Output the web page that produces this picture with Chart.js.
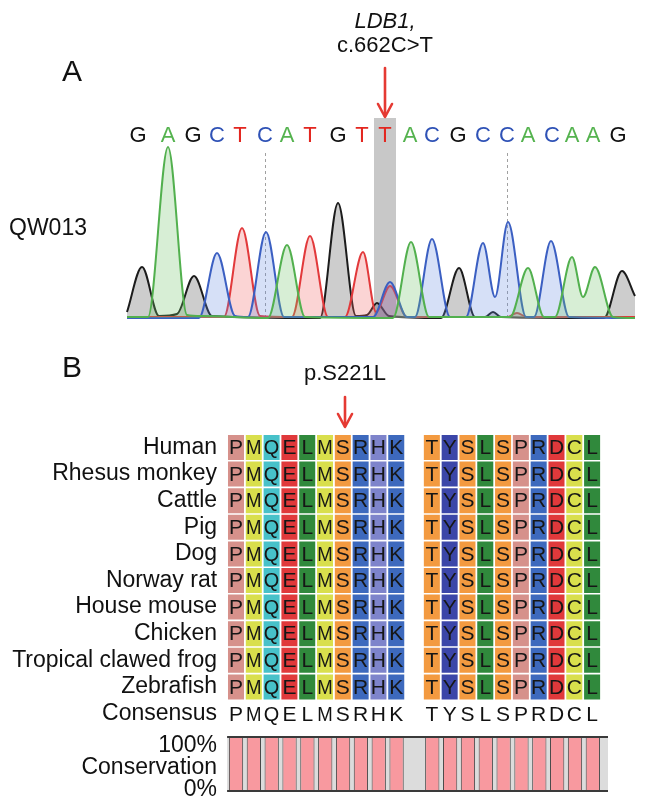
<!DOCTYPE html>
<html><head><meta charset="utf-8">
<script src="https://cdn.jsdelivr.net/npm/chart.js@4.4.1/dist/chart.umd.min.js"></script>
<style>
html,body{margin:0;padding:0;background:#fff;}
#wrap{position:relative;width:646px;height:806px;overflow:hidden;font-family:"Liberation Sans",Arial,Helvetica,sans-serif;color:#111;}
canvas{position:absolute;left:0;}
.t{position:absolute;line-height:1;white-space:nowrap;}
.c{transform:translate(-50%,-50%);}
.r{transform:translate(-100%,-50%);}
svg{position:absolute;left:0;top:0;}
</style></head><body>
<div id="wrap">
<canvas id="cA" width="646" height="330" style="top:0"></canvas>
<canvas id="cB" width="646" height="305" style="top:430px"></canvas>
<canvas id="cC" width="646" height="76" style="top:730px"></canvas>
<svg width="646" height="806">
  <g stroke="#e53a33" stroke-width="2.6" fill="none" stroke-linecap="round" stroke-linejoin="round">
    <line x1="385" y1="68" x2="385" y2="116"/>
    <polyline points="378,104 385,117 392,104"/>
    <line x1="345" y1="397" x2="345" y2="426"/>
    <polyline points="338,414 345,427 352,414"/>
  </g>
</svg>
<div class="t c" style="left:72px;top:71px;font-size:30px">A</div>
<div class="t c" style="left:72px;top:367px;font-size:30px">B</div>
<div class="t c" style="left:385px;top:21px;font-size:22px;font-style:italic">LDB1,</div>
<div class="t c" style="left:385px;top:45px;font-size:22px">c.662C&gt;T</div>
<div class="t c" style="left:48px;top:227px;font-size:23px">QW013</div>
<div class="t c" style="left:345px;top:373px;font-size:22px">p.S221L</div>
<div class="t r" style="left:217px;top:744px;font-size:23px">100%</div>
<div class="t r" style="left:217px;top:766px;font-size:23px">Conservation</div>
<div class="t r" style="left:217px;top:788px;font-size:23px">0%</div>
</div>
<script>
// ---------- Panel A: sequencing trace ----------
const baseCalls = ["G","A","G","C","T","C","A","T","G","T","T","A","C","G","C","C","A","C","A","A","G"];
const basePositions = [11,41,66,90,113,138,160,183,211,235,258,283,305,331,356,380,401,425,445,466,491];
const mutationIndex = 10;
const markerIndices = [5,15];
// [scan position, intensity]
const traceA = [[0,1],[21,1],[41,171],[60,3],[75,2],[141,0],[160,73],[178,1],[266,0],[284,76],[302,1],[383,1],[401,50],[417,1],[428,1],[445,61],[456,21],[468,51],[486,1],[508,0]];
const traceC = [[0,0],[72,0],[90,65],[108,2],[121,1],[139,86],[157,1],[246,1],[263,36],[280,1],[288,1],[305,79],[323,1],[339,1],[356,75],[368,21],[381,96],[399,1],[407,1],[424,77],[442,1],[508,0]];
const traceG = [[0,6],[15,51],[32,2],[50,4],[67,42],[85,2],[193,0],[211,115],[229,2],[240,3],[250,15],[262,2],[314,0],[332,50],[348,1],[358,1],[366,6],[374,1],[477,0],[495,47],[508,22]];
const traceT = [[0,1],[97,1],[115,90],[133,2],[165,1],[183,82],[201,1],[218,1],[236,66],[249,6],[263,32],[280,1],[380,1],[390,5],[400,1],[508,1]];

const baseColor = {A:"#55b34f", C:"#2f52b6", G:"#111111", T:"#e3261f"};
const traceStyle = {
  A:{line:"#52b04e", fill:"rgba(110,195,105,0.28)"},
  C:{line:"#3b5fc2", fill:"rgba(95,135,225,0.26)"},
  G:{line:"#1c1c1c", fill:"rgba(90,90,90,0.30)"},
  T:{line:"#e2393b", fill:"rgba(240,100,100,0.28)"}
};
const traces = {A:traceA, C:traceC, T:traceT, G:traceG};

const chromPlugin = {
  id:"chrom",
  beforeDatasetsDraw(chart){
    const {ctx, chartArea:a, scales:{x,y}} = chart;
    ctx.save();
    const xm = basePositions[mutationIndex];
    const x0 = x.getPixelForValue(xm-11), x1 = x.getPixelForValue(xm+11);
    ctx.fillStyle = "#c8c8c8";
    ctx.fillRect(x0, a.top, x1-x0, y.getPixelForValue(0)-a.top);
    ctx.strokeStyle = "#a0a0a0"; ctx.lineWidth = 1; ctx.setLineDash([3,3]);
    markerIndices.forEach(i=>{
      const px = Math.round(x.getPixelForValue(basePositions[i]))+0.5;
      ctx.beginPath(); ctx.moveTo(px, y.getPixelForValue(165)); ctx.lineTo(px, y.getPixelForValue(0)); ctx.stroke();
    });
    ctx.restore();
  },
  afterDraw(chart){
    const {ctx, chartArea:a, scales:{x}} = chart;
    ctx.save();
    ctx.font = '22px "Liberation Sans", Arial, sans-serif';
    ctx.textAlign = "center"; ctx.textBaseline = "middle";
    baseCalls.forEach((b,i)=>{
      ctx.fillStyle = baseColor[b];
      ctx.fillText(b, x.getPixelForValue(basePositions[i]), a.top+18);
    });
    ctx.restore();
  }
};

new Chart(document.getElementById("cA"), {
  type:"line",
  data:{datasets:["A","C","T","G"].map(k=>({
    label:k,
    data:traces[k].map(p=>({x:p[0], y:p[1]})),
    borderColor:traceStyle[k].line,
    backgroundColor:traceStyle[k].fill,
    fill:"origin",
    borderWidth:2,
    pointRadius:0,
    cubicInterpolationMode:"monotone",
    clip:5
  }))},
  options:{
    responsive:false, animation:false, devicePixelRatio:1,
    layout:{padding:{left:127,right:11,top:118,bottom:12}},
    plugins:{legend:{display:false}, tooltip:{enabled:false}},
    scales:{
      x:{type:"linear", min:0, max:508, display:false},
      y:{min:0, max:200, display:false}
    }
  },
  plugins:[chromPlugin]
});

// ---------- Panel B: alignment ----------
const species = ["Human","Rhesus monkey","Cattle","Pig","Dog","Norway rat","House mouse","Chicken","Tropical clawed frog","Zebrafish"];
const alignment = [
  "PMQELMSRHK TYSLSPRDCL",
  "PMQELMSRHK TYSLSPRDCL",
  "PMQELMSRHK TYSLSPRDCL",
  "PMQELMSRHK TYSLSPRDCL",
  "PMQELMSRHK TYSLSPRDCL",
  "PMQELMSRHK TYSLSPRDCL",
  "PMQELMSRHK TYSLSPRDCL",
  "PMQELMSRHK TYSLSPRDCL",
  "PMQELMSRHK TYSLSPRDCL",
  "PMQELMSRHK TYSLSPRDCL"
];
const consensus = "PMQELMSRHK TYSLSPRDCL";
const conservation = [100,100,100,100,100,100,100,100,100,100,null,100,100,100,100,100,100,100,100,100,100];

const residueColor = {
  P:"#d6918b", M:"#d9df4c", Q:"#47c1c9", E:"#e0393b", L:"#30893c",
  S:"#f39a40", R:"#3d69bd", H:"#7e84cb", K:"#3d69bd", T:"#f39a40",
  Y:"#3b46a8", D:"#e0393b", C:"#d9df4c"
};
const rowLabels = species.concat(["Consensus"]);
const nCols = consensus.length;

const letterPlugin = {
  id:"letters",
  afterDatasetsDraw(chart){
    const ctx = chart.ctx;
    ctx.save();
    ctx.font = '21px "Liberation Sans", Arial, sans-serif';
    ctx.textAlign = "center"; ctx.textBaseline = "middle";
    ctx.fillStyle = "#161616";
    chart.data.datasets.forEach((ds,c)=>{
      chart.getDatasetMeta(c).data.forEach((el,r)=>{
        if(ds.data[r]==null) return;
        const p = el.getCenterPoint();
        ctx.fillText(alignment[r][c], p.x, p.y+1, 15.5);
      });
    });
    ctx.fillStyle = "#111";
    const yc = chart.scales.y.getPixelForValue(species.length);
    for(let c=0;c<nCols;c++){
      if(consensus[c]===" ") continue;
      ctx.fillText(consensus[c], chart.scales.x.getPixelForValue(c), yc+2, 15.5);
    }
    ctx.restore();
  }
};

new Chart(document.getElementById("cB"), {
  type:"bar",
  data:{
    labels:rowLabels,
    datasets:Array.from({length:nCols},(_,c)=>({
      data:rowLabels.map((_,r)=> (r<species.length && alignment[r][c]!==" ") ? [c-0.45, c+0.45] : null),
      backgroundColor:rowLabels.map((_,r)=> r<species.length ? (residueColor[alignment[r][c]]||"#fff") : "#fff"),
      borderWidth:0,
      grouped:false,
      barPercentage:0.94,
      categoryPercentage:1
    }))
  },
  options:{
    indexAxis:"y",
    responsive:false, animation:false, devicePixelRatio:1,
    layout:{padding:{left:0,right:45,top:4.2,bottom:8.2}},
    plugins:{legend:{display:false}, tooltip:{enabled:false}},
    scales:{
      x:{type:"linear", min:-0.5, max:20.5, display:false},
      y:{type:"category", offset:true,
         grid:{display:false, drawTicks:false}, border:{display:false},
         ticks:{color:"#111", padding:10, autoSkip:false, font:{family:'"Liberation Sans", Arial, sans-serif', size:23}},
         afterFit(scale){ scale.width = 227.1; scale.paddingTop = 0; scale.paddingBottom = 0; }
      }
    }
  },
  plugins:[letterPlugin]
});

// ---------- Conservation ----------
const boxPlugin = {
  id:"box",
  beforeDatasetsDraw(chart){
    const {ctx, chartArea:a} = chart;
    ctx.save(); ctx.fillStyle = "#dcdcdc";
    ctx.fillRect(a.left, a.top, a.right-a.left, a.bottom-a.top);
    ctx.restore();
  },
  afterDatasetsDraw(chart){
    const {ctx, chartArea:a} = chart;
    ctx.save(); ctx.strokeStyle = "#3a3a3a"; ctx.lineWidth = 2;
    ctx.beginPath(); ctx.moveTo(a.left, a.top); ctx.lineTo(a.right, a.top);
    ctx.moveTo(a.left, a.bottom); ctx.lineTo(a.right, a.bottom); ctx.stroke();
    ctx.restore();
  }
};

new Chart(document.getElementById("cC"), {
  type:"bar",
  data:{datasets:[{
    data:conservation.map((v,i)=>({x:i, y:v})),
    backgroundColor:"#f8999f",
    borderColor:"#4a4a4a",
    borderWidth:{left:1,right:1,top:0,bottom:0},
    barPercentage:0.8,
    categoryPercentage:1
  }]},
  options:{
    responsive:false, animation:false, devicePixelRatio:1,
    layout:{padding:{left:227.1,right:38,top:7,bottom:15}},
    plugins:{legend:{display:false}, tooltip:{enabled:false}},
    scales:{
      x:{type:"linear", min:-0.5, max:20.85, display:false, offset:false},
      y:{min:0, max:100, display:false}
    }
  },
  plugins:[boxPlugin]
});
</script>
</body></html>
